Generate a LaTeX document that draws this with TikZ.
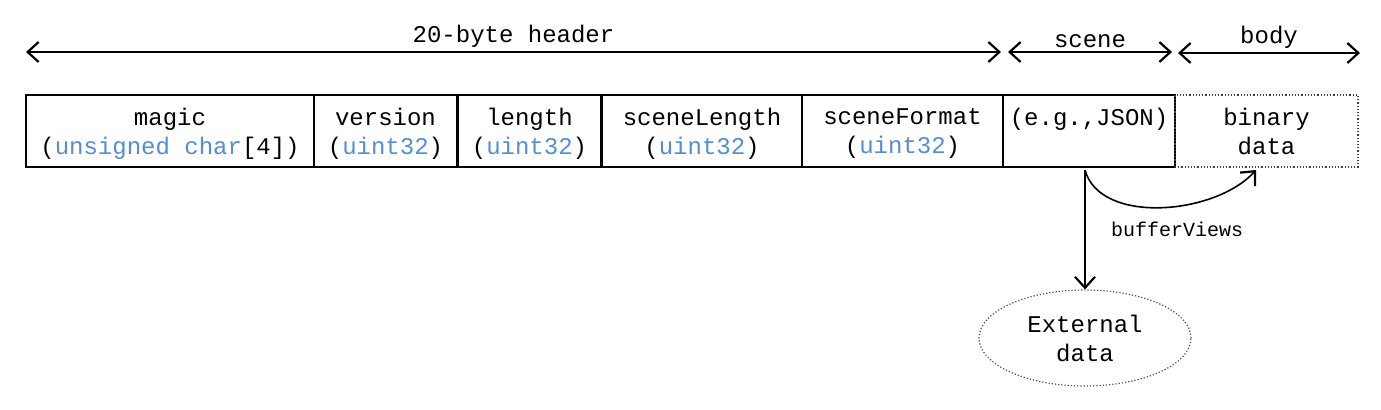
\documentclass[tikz,border=0pt]{standalone}
\usepackage{fontspec}
\setmainfont{Liberation Mono}
\usetikzlibrary{arrows.meta,shapes.geometric}
\definecolor{typeblue}{HTML}{558ED5}
\newcommand{\tp}[1]{\textcolor{typeblue}{#1}}
\tikzset{
	field/.style={draw, line width=1pt, minimum height=36pt, align=center, inner sep=0pt,
		text depth=-1.5pt, font=\fontsize{12}{14.5}\selectfont},
	span/.style={line width=1pt, {Straight Barb[length=5.5pt,width=10pt,line width=1.1pt]}-{Straight Barb[length=5.5pt,width=10pt,line width=1.1pt]}},
	link/.style={line width=0.8pt, -{Straight Barb[length=5.5pt,width=10pt,line width=1.1pt]}}
}
\begin{document}
\begin{tikzpicture}[x=0.5pt,y=-0.5pt]
	\useasboundingbox (0,0) rectangle (1381,409);
	% the fields of the header
	\node[field, minimum width=144pt] (magic) at (170,131) {magic\\(\tp{unsigned char}[4])};
	\node[field, minimum width=71.5pt] (version) at (385.5,131) {version\\(\tp{uint32})};
	\node[field, minimum width=71.5pt] (length) at (529.5,131) {length\\(\tp{uint32})};
	\node[field, minimum width=100pt] (sclen) at (702,131) {sceneLength\\(\tp{uint32})};
	\node[field, minimum width=100.5pt] (scfmt) at (902.5,131) {sceneFormat\\(\tp{uint32})};
	\node[field, minimum width=86pt] (scene) at (1089,131) {(e.g.,JSON)\\~};
	\node[field, minimum width=91.5pt, draw=black!75, line width=0.6pt, densely dotted] (body) at (1266.5,131) {binary\\data};
	% spans over the fields
	\coordinate (hdrL) at (26,52);
	\coordinate (hdrR) at (1001,52);
	\coordinate (scL) at (1008,52);
	\coordinate (scR) at (1172,52);
	\coordinate (bdL) at (1178,53);
	\coordinate (bdR) at (1360,53);
	\draw[span] (hdrL) -- node[above=-1.5pt, font=\fontsize{12}{14}\selectfont] {20-byte header} (hdrR);
	\draw[span] (scL) -- node[above=-1.5pt, font=\fontsize{12}{14}\selectfont] {scene} (scR);
	\draw[span] (bdL) -- node[above=-1.5pt, font=\fontsize{12}{14}\selectfont] {body} (bdR);
	% external data and buffer views
	\node[draw=black!70, densely dotted, line width=0.6pt, ellipse, minimum width=106pt, minimum height=48pt,
		align=center, font=\fontsize{12}{14.5}\selectfont] (ext) at (1085,338) {External\\data};
	\coordinate (from) at (1085,170);
	\coordinate (to) at (1256,170);
	\draw[link] (from) -- (ext.north);
	\draw[link] (from) .. controls (1100,225) and (1215,215) .. (to);
	\node[font=\fontsize{10}{12}\selectfont] (bv) at (1177,229) {bufferViews};
\end{tikzpicture}
\end{document}
